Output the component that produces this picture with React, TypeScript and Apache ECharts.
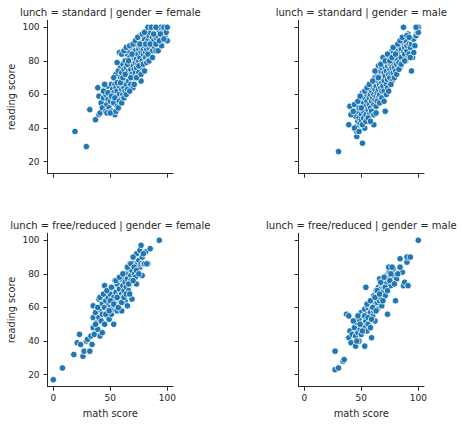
import React, { useEffect, useRef } from "react";
import * as echarts from "echarts";

const xTicks = [0, 50, 100];
const yTicks = [20, 40, 60, 80, 100];

const panelTitles = [
  "lunch = standard | gender = female",
  "lunch = standard | gender = male",
  "lunch = free/reduced | gender = female",
  "lunch = free/reduced | gender = male",
];

// [math score, reading score]
const standardFemale: number[][] = [
  [19,38],[29,29],[32,51],[37,45],[39,64],[40,48],[40,59],[41,49],[42,55],[43,52],[44,58],[45,63],[46,50],[46,60],[47,54],[48,57],[48,65],[49,52],[50,61],[50,56],[51,66],[51,50],[52,58],[52,63],[53,55],[53,61],[54,48],[54,66],[55,59],[55,64],[55,72],[56,53],[56,62],[57,68],[57,74],[58,85],[58,60],[58,65],[59,57],[59,70],[59,77],[60,63],[60,67],[60,73],[61,60],[61,66],[61,78],[62,64],[62,70],[62,75],[63,62],[63,68],[63,80],[64,72],[64,66],[64,76],[65,70],[65,63],[65,84],[66,74],[66,86],[66,68],[67,78],[67,71],[67,82],[68,66],[68,75],[68,88],[69,80],[69,72],[69,89],[70,64],[70,77],[70,84],[71,70],[71,82],[71,75],[72,79],[72,86],[72,73],[73,81],[73,76],[73,90],[74,84],[74,71],[74,78],[75,87],[75,80],[75,73],[76,82],[76,95],[76,77],[77,68],[77,85],[77,88],[78,91],[78,80],[78,76],[79,84],[79,87],[80,93],[80,79],[80,89],[81,97],[81,85],[81,82],[82,90],[82,87],[83,92],[83,80],[84,88],[84,95],[85,97],[85,84],[86,91],[86,89],[87,94],[87,86],[88,100],[88,92],[89,96],[89,88],[90,86],[90,94],[91,95],[91,99],[92,86],[92,90],[93,98],[94,100],[95,89],[95,93],[96,97],[97,100],[98,95],[99,97],[99,92],[100,100],[100,92],
  [44,62],[45,66],[47,49],[48,61],[50,49],[51,59],[53,70],[54,58],[55,50],[56,67],[56,79],[57,52],[58,56],[59,67],[60,84],[60,55],[61,70],[62,86],[62,58],[63,72],[64,88],[64,60],[65,78],[66,80],[67,62],[67,89],[68,70],[69,84],[70,90],[71,66],[72,92],[73,70],[74,94],[75,77],[76,90],[77,72],[78,96],[79,78],[80,97],[80,74],[81,90],[82,79],[83,100],[83,84],[84,80],[85,90],[86,100],[87,82],[88,96],[90,100],[90,90],[93,92],[94,96],[97,93],
];

const standardMale: number[][] = [
  [30,26],[39,42],[40,53],[44,54],[45,47],[46,35],[46,38],[46,41],[47,44],[47,50],[48,46],[48,52],[49,43],[49,56],[50,48],[50,45],[51,31],[51,61],[51,52],[52,50],[52,55],[52,46],[53,40],[53,58],[54,48],[54,53],[55,45],[55,56],[55,60],[56,51],[56,62],[57,54],[57,48],[57,58],[58,60],[58,52],[58,65],[59,56],[59,62],[60,50],[60,58],[60,64],[61,42],[61,60],[61,54],[61,67],[62,57],[62,63],[62,70],[63,59],[63,65],[63,53],[64,61],[64,68],[64,72],[65,77],[65,63],[65,58],[66,66],[66,71],[66,60],[67,64],[67,69],[67,74],[68,62],[68,67],[68,76],[69,70],[69,65],[69,79],[70,68],[70,73],[70,62],[71,50],[71,71],[71,76],[72,66],[72,74],[72,80],[73,69],[73,77],[73,64],[74,72],[74,82],[74,79],[75,75],[75,70],[75,84],[76,78],[76,73],[76,81],[77,68],[77,76],[77,86],[78,85],[78,79],[78,73],[79,82],[79,76],[80,80],[80,88],[80,74],[81,83],[81,78],[82,86],[82,81],[83,79],[83,89],[84,84],[84,76],[85,87],[85,82],[86,90],[86,79],[87,91],[87,100],[87,85],[88,84],[88,88],[89,92],[89,80],[90,86],[90,89],[91,96],[91,82],[92,90],[92,84],[93,88],[94,74],[94,90],[95,82],[95,93],[96,93],[97,89],[98,95],[99,97],[100,100],[100,97],
  [41,48],[43,50],[44,40],[47,56],[48,38],[49,59],[50,52],[51,42],[53,62],[54,44],[55,64],[56,46],[57,66],[58,44],[59,50],[60,68],[61,48],[62,74],[63,49],[64,56],[65,70],[66,55],[67,78],[68,58],[69,82],[70,56],[71,80],[72,60],[73,84],[74,62],[75,80],[76,66],[77,82],[78,88],[79,70],[80,84],[81,72],[82,90],[83,75],[84,92],[85,78],[86,94],[88,80],[90,95],[92,94],[93,82],[96,85],[98,100],
];

const freeFemale: number[][] = [
  [0,17],[8,24],[18,32],[21,39],[23,44],[24,38],[26,31],[27,34],[29,40],[32,34],[30,41],[33,43],[34,38],[35,48],[35,54],[35,61],[36,44],[37,57],[38,51],[39,47],[40,65],[40,54],[41,43],[41,59],[42,52],[43,45],[43,62],[44,56],[45,73],[45,50],[45,60],[46,64],[47,55],[48,58],[48,66],[49,53],[49,62],[50,60],[50,68],[51,56],[51,64],[52,72],[52,59],[53,50],[53,66],[54,61],[54,76],[55,63],[55,69],[56,58],[56,74],[57,65],[57,67],[58,71],[58,61],[59,77],[59,63],[60,68],[60,58],[61,73],[61,66],[62,78],[62,70],[63,64],[63,75],[64,72],[64,80],[65,61],[65,77],[66,70],[66,83],[67,74],[67,86],[68,79],[68,76],[69,65],[69,82],[70,86],[71,80],[72,84],[72,78],[73,74],[73,92],[74,86],[74,82],[75,88],[76,84],[76,94],[77,97],[77,86],[78,79],[78,90],[79,86],[80,86],[81,93],[83,86],[85,95],[93,100],
  [37,50],[39,60],[41,66],[43,56],[44,68],[46,56],[47,70],[49,58],[50,64],[51,72],[53,62],[55,76],[56,66],[57,60],[58,78],[60,63],[61,80],[62,66],[64,68],[65,84],[66,74],[67,68],[68,86],[70,76],[70,90],[71,84],[73,82],[75,80],[79,92],[82,86],
];

const freeMale: number[][] = [
  [27,34],[27,23],[30,24],[34,28],[35,29],[37,56],[39,55],[39,42],[40,46],[41,39],[42,44],[44,48],[45,37],[45,43],[46,51],[47,45],[48,40],[48,53],[49,47],[50,57],[50,44],[51,50],[52,55],[52,48],[53,37],[53,59],[54,72],[54,52],[55,46],[55,56],[56,60],[56,50],[57,54],[57,62],[58,57],[58,48],[59,42],[59,60],[60,64],[60,55],[61,58],[61,67],[62,52],[62,62],[63,70],[63,65],[64,63],[64,59],[65,68],[65,72],[66,77],[66,64],[67,66],[67,71],[68,74],[68,61],[69,69],[70,76],[70,72],[71,67],[72,79],[72,74],[73,56],[74,81],[74,77],[75,81],[76,73],[77,76],[78,83],[79,79],[80,64],[81,77],[84,89],[86,81],[87,73],[88,75],[90,87],[90,90],[91,73],[93,90],[100,100],
  [43,52],[46,40],[47,55],[49,50],[51,46],[53,55],[55,62],[56,54],[58,64],[59,53],[60,60],[62,66],[63,58],[64,70],[66,68],[67,75],[69,64],[70,78],[71,72],[73,70],[74,84],[75,76],[76,80],[77,84],[79,74],[82,80],[84,84],
];

const panelData = [standardFemale, standardMale, freeFemale, freeMale];

const INK = "#262626";
const FONT = "DejaVu Sans";

export default function App() {
  const ref = useRef<HTMLDivElement>(null);

  useEffect(() => {
    if (!ref.current) return;
    const chart = echarts.init(ref.current, undefined, { renderer: "svg" });

    const lefts = [47.6, 298.6, 47.6, 298.6];
    const tops = [20.3, 20.3, 233.3, 233.3];
    const W = 125.4;
    const H = 153.4;

    const grid = lefts.map((l, i) => ({ left: l, top: tops[i], width: W, height: H }));

    const xAxis = lefts.map((_, i) => ({
      type: "value",
      gridIndex: i,
      min: -5,
      max: 105,
      splitLine: { show: false },
      axisLine: { show: true, onZero: false, lineStyle: { color: INK, width: 1 } },
      axisTick: { show: true, length: 4, customValues: xTicks, lineStyle: { color: INK, width: 1 } },
      axisLabel: {
        show: i >= 2,
        customValues: xTicks,
        color: INK,
        fontFamily: FONT,
        fontSize: 9,
        margin: 7,
      },
    }));

    const yAxis = lefts.map((_, i) => ({
      type: "value",
      gridIndex: i,
      min: 12.85,
      max: 104.15,
      splitLine: { show: false },
      axisLine: { show: true, onZero: false, lineStyle: { color: INK, width: 1 } },
      axisTick: { show: true, length: 4, customValues: yTicks, lineStyle: { color: INK, width: 1 } },
      axisLabel: {
        show: i % 2 === 0,
        customValues: yTicks,
        color: INK,
        fontFamily: FONT,
        fontSize: 9,
        margin: 8,
      },
    }));

    const series = panelData.map((d, i) => ({
      type: "scatter",
      xAxisIndex: i,
      yAxisIndex: i,
      data: d,
      symbolSize: 6.5,
      itemStyle: { color: "#1f77b4", borderColor: "#ffffff", borderWidth: 0.8, opacity: 1 },
    }));

    const graphics: any[] = [];
    panelTitles.forEach((t, i) => {
      graphics.push({
        type: "text",
        x: lefts[i] + W / 2,
        y: tops[i] - 7.5,
        style: {
          text: t,
          fill: INK,
          font: `10px ${FONT}`,
          textAlign: "center",
          textVerticalAlign: "middle",
        },
      });
    });
    [0, 2].forEach((i) => {
      graphics.push({
        type: "text",
        x: 11,
        y: tops[i] + H / 2,
        rotation: Math.PI / 2,
        style: {
          text: "reading score",
          fill: INK,
          font: `9.8px ${FONT}`,
          textAlign: "center",
          textVerticalAlign: "middle",
        },
      });
    });
    [2, 3].forEach((i) => {
      graphics.push({
        type: "text",
        x: lefts[i] + W / 2,
        y: 413.5,
        style: {
          text: "math score",
          fill: INK,
          font: `9.8px ${FONT}`,
          textAlign: "center",
          textVerticalAlign: "middle",
        },
      });
    });

    chart.setOption({
      animation: false,
      backgroundColor: "#ffffff",
      grid,
      xAxis,
      yAxis,
      series,
      graphic: graphics,
    } as any);

    return () => chart.dispose();
  }, []);

  return (
    <div
      ref={ref}
      style={{ position: "fixed", left: 0, top: 0, width: 462, height: 424, background: "#fff" }}
    />
  );
}
